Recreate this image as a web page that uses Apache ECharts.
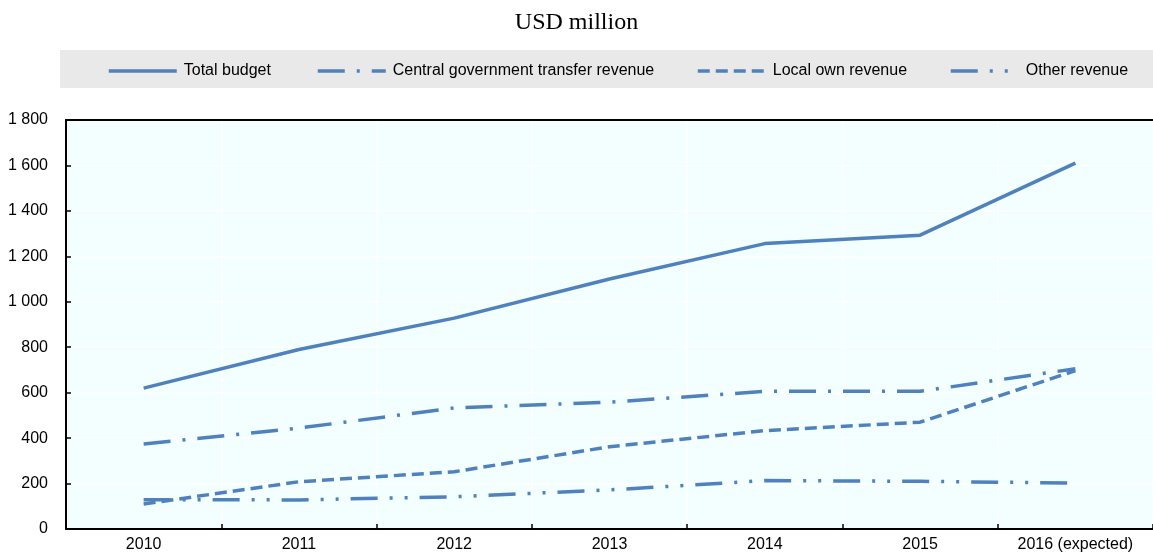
<!DOCTYPE html>
<html>
<head>
<meta charset="utf-8">
<script src="https://cdn.jsdelivr.net/npm/echarts@6/dist/echarts.min.js"></script>
<style>
  html, body { margin: 0; padding: 0; background: #ffffff; }
  #chart { width: 1153px; height: 557px; }
</style>
</head>
<body>
<div id="chart"></div>
<script>
// Revenue sources of the local budget, USD million
const years = ['2010', '2011', '2012', '2013', '2014', '2015', '2016 (expected)'];
const totalBudget = [620, 790, 928, 1100, 1256, 1293, 1610];
const centralTransfer = [374, 444, 533, 558, 606, 606, 705];
const localOwn = [110, 208, 252, 362, 433, 470, 697];
const otherRevenue = [129, 128, 142, 172, 213, 210, 202];
const yTicks = [0, 200, 400, 600, 800, 1000, 1200, 1400, 1600, 1800];

const BLUE = '#4f81bd';
const FONT = "'Liberation Sans', Arial, sans-serif";
const LABEL_SIZE = 16;

const chart = echarts.init(document.getElementById('chart'), null, { renderer: 'canvas' });

function lineSeries(name, data, dash) {
  return {
    name: name,
    type: 'line',
    data: data,
    symbol: 'none',
    smooth: false,
    lineStyle: { color: BLUE, width: 3.5, type: dash, cap: 'butt' },
    itemStyle: { color: BLUE },
    emphasis: { disabled: true }
  };
}

function legendAt(name, left) {
  return {
    data: [name],
    left: left,
    top: 63,
    itemWidth: 68,
    itemHeight: 14,
    padding: 0,
    selectedMode: false,
    itemStyle: { opacity: 0 },
    lineStyle: { width: 3.5 },
    textStyle: { fontFamily: FONT, fontSize: LABEL_SIZE, color: '#000', padding: [0, 0, 0, 2] }
  };
}

const option = {
  animation: false,
  backgroundColor: '#ffffff',
  title: {
    text: 'USD million',
    left: 'center',
    top: 6,
    textStyle: { fontFamily: "'Liberation Serif', 'Times New Roman', serif", fontSize: 24, fontWeight: 'normal', color: '#000' }
  },
  graphic: [{
    type: 'rect',
    z: -1,
    shape: { x: 60, y: 50, width: 1093, height: 38 },
    style: { fill: '#e9e9e9' }
  }],
  legend: [
    legendAt('Total budget', 107),
    legendAt('Central government transfer revenue', 316),
    legendAt('Local own revenue', 696),
    legendAt('Other revenue', 949)
  ],
  grid: {
    left: 66, right: 0, top: 120, bottom: 28,
    show: true, backgroundColor: '#f3fefe', borderWidth: 0
  },
  xAxis: [{
    type: 'category',
    data: years,
    boundaryGap: true,
    axisLine: { show: true, lineStyle: { color: '#000', width: 2 } },
    axisTick: { show: true, inside: true, length: 5, lineStyle: { color: '#000', width: 1.5 } },
    axisLabel: { fontFamily: FONT, fontSize: LABEL_SIZE, color: '#000', margin: 8, interval: 0 },
    splitLine: { show: true, lineStyle: { color: '#ffffff', width: 1.5 } }
  }, {
    type: 'category',
    data: years,
    position: 'top',
    axisLine: { show: true, lineStyle: { color: '#000', width: 2 } },
    axisTick: { show: false },
    axisLabel: { show: false },
    splitLine: { show: false }
  }],
  yAxis: {
    type: 'value',
    min: yTicks[0],
    max: yTicks[yTicks.length - 1],
    interval: 200,
    axisLine: { show: true, lineStyle: { color: '#000', width: 2 } },
    axisTick: { show: true, inside: true, length: 5, lineStyle: { color: '#000', width: 1.5 } },
    axisLabel: {
      fontFamily: FONT, fontSize: LABEL_SIZE, color: '#000', margin: 18,
      formatter: v => String(v).replace(/\B(?=(\d{3})+(?!\d))/g, ' ')
    },
    splitLine: { show: true, lineStyle: { color: '#ffffff', width: 1.5 } }
  },
  series: [
    lineSeries('Total budget', totalBudget, 'solid'),
    lineSeries('Central government transfer revenue', centralTransfer, [27, 12, 3, 12]),
    lineSeries('Local own revenue', localOwn, [12, 6]),
    lineSeries('Other revenue', otherRevenue, [27, 12, 3, 12, 3, 12])
  ]
};

chart.setOption(option);
</script>
</body>
</html>
